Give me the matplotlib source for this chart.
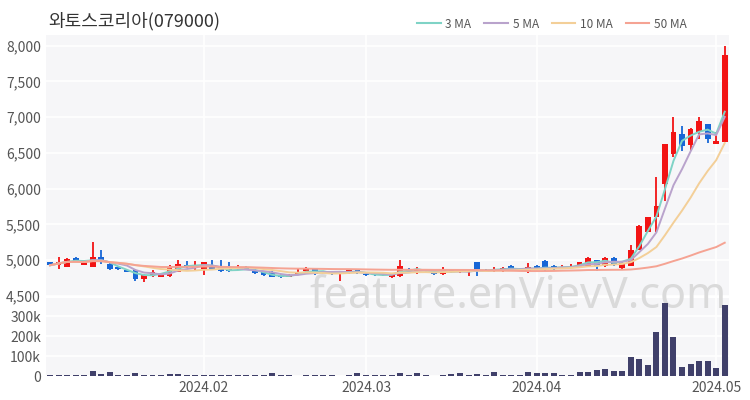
import matplotlib
matplotlib.use("Agg")
import matplotlib.pyplot as plt
from matplotlib.lines import Line2D
import numpy as np
import pandas as pd

plt.rcParams['font.family'] = ['Noto Sans CJK KR', 'DejaVu Sans']

# trading days (KRX holidays removed)
holidays = ["2024-02-09", "2024-02-12", "2024-03-01", "2024-04-10", "2024-05-01"]
dates = pd.bdate_range("2024-01-08", "2024-05-03")
dates = dates[~dates.isin(pd.to_datetime(holidays))]

opens = [4970, 4930, 4910, 5030, 4940, 4910, 5050, 4950, 4910, 4860,
         4870, 4740, 4780, 4770, 4780, 4840, 4930, 4890, 4880, 4940,
         4900, 4890, 4880, 4910, 4870, 4830, 4840, 4800, 4770, 4800,
         4850, 4880, 4820, 4840, 4820, 4820, 4860, 4810, 4810, 4790,
         4760, 4780, 4880, 4830, 4870, 4850, 4810, 4870, 4830, 4840,
         4970, 4870, 4850, 4850, 4920, 4880, 4850, 4920, 4990, 4920,
         4890, 4900, 4900, 4920, 5000, 4920, 5030, 4890, 4920, 5150,
         5400, 5600, 6060, 6480, 6760, 6610, 6790, 6900, 6630, 6650]
highs = [4980, 5050, 5030, 5040, 4980, 5250, 5150, 4980, 4920, 4870,
         4880, 4810, 4870, 4810, 4940, 5010, 4990, 4990, 4980, 5010,
         5000, 4970, 4930, 4920, 4880, 4840, 4850, 4810, 4810, 4880,
         4900, 4890, 4850, 4850, 4850, 4870, 4870, 4820, 4820, 4810,
         4810, 5000, 4890, 4900, 4880, 4860, 4900, 4880, 4860, 4860,
         4970, 4880, 4910, 4900, 4930, 4890, 4960, 4930, 5000, 4930,
         4940, 4950, 4980, 5040, 5010, 5040, 5040, 4990, 5220, 5490,
         5610, 6160, 6620, 7010, 6880, 6850, 7000, 6910, 6800, 7990]
lows = [4920, 4880, 4900, 4970, 4930, 4900, 4950, 4860, 4860, 4830,
        4710, 4690, 4760, 4760, 4770, 4830, 4890, 4850, 4800, 4870,
        4840, 4840, 4870, 4870, 4810, 4780, 4760, 4750, 4760, 4790,
        4840, 4790, 4810, 4800, 4710, 4810, 4810, 4780, 4780, 4780,
        4750, 4770, 4830, 4810, 4840, 4800, 4790, 4820, 4820, 4780,
        4780, 4840, 4840, 4840, 4870, 4850, 4820, 4860, 4850, 4850,
        4880, 4890, 4890, 4910, 4850, 4900, 4920, 4880, 4920, 5150,
        5390, 5400, 5830, 6440, 6530, 6530, 6690, 6640, 6630, 6650]
closes = [4930, 4980, 5020, 4980, 4970, 5050, 4980, 4880, 4880, 4840,
          4740, 4800, 4830, 4800, 4900, 4950, 4900, 4930, 4970, 4880,
          4850, 4850, 4890, 4880, 4820, 4800, 4770, 4770, 4800, 4830,
          4890, 4810, 4840, 4810, 4840, 4860, 4820, 4790, 4790, 4800,
          4800, 4920, 4840, 4870, 4850, 4810, 4870, 4830, 4850, 4850,
          4870, 4850, 4880, 4890, 4880, 4860, 4910, 4880, 4900, 4900,
          4910, 4910, 4970, 5030, 4920, 5030, 4950, 4960, 5150, 5480,
          5600, 5760, 6620, 6790, 6600, 6840, 6950, 6690, 6670, 7870]
volumes = [3000, 4000, 5000, 3000, 4000, 25000, 8000, 20000, 6000, 7000,
           15000, 5000, 3000, 3000, 10000, 10000, 5000, 3000, 6000, 3000,
           3000, 4000, 3000, 3000, 6000, 3000, 14000, 6000, 3000, 2000,
           3000, 3000, 6000, 3000, 2000, 3000, 17000, 3000, 3000, 3000,
           4000, 15000, 6000, 15000, 3000, 2000, 3000, 10000, 14000, 6000,
           8000, 7000, 18000, 5000, 6000, 5000, 20000, 14000, 14000, 14000,
           5000, 5000, 18000, 22000, 32000, 37000, 25000, 27000, 97000, 84000,
           56000, 220000, 367000, 194000, 46000, 60000, 75000, 75000, 40000, 357000]

ma_windows = [3, 5, 10, 50]
ma_colors = ['#7fd3c6', '#b9a3cc', '#f3cf98', '#f5a393']

df = pd.DataFrame({'open': opens, 'high': highs, 'low': lows,
                   'close': closes, 'volume': volumes}, index=dates)
x = np.arange(len(df))
up = df['close'] >= df['open']
red, blue = '#f21414', '#1766d6'
colors = np.where(up, red, blue)

bg = '#f6f6f8'
fig = plt.figure(figsize=(7.5, 4), dpi=100)
ax = fig.add_axes([0.061, 0.26, 0.911, 0.6525])
axv = fig.add_axes([0.061, 0.06, 0.911, 0.195])

for a in (ax, axv):
    a.set_facecolor(bg)
    for s in a.spines.values():
        s.set_visible(False)
    a.tick_params(length=0, labelsize=10, colors='#555555')
    a.grid(True, color='white', linewidth=1.2)
    a.set_axisbelow(True)
    a.set_xlim(-0.5, len(df) - 0.5)

# price candles
ax.vlines(x, df['low'], df['high'], colors=colors, linewidth=1.3, zorder=3)
body_bottom = np.minimum(df['open'], df['close'])
body_h = np.maximum(np.abs(df['close'] - df['open']), 12)
ax.bar(x, body_h, bottom=body_bottom, width=0.68, color=colors, zorder=3)

for w, c in zip(ma_windows, ma_colors):
    ma = df['close'].rolling(w, min_periods=1).mean()
    ax.plot(x, ma, color=c, linewidth=1.4, zorder=4)

ax.set_ylim(4500, 8150)
ax.set_yticks(np.arange(4500, 8001, 500))
ax.set_yticklabels([f"{v:,}" for v in range(4500, 8001, 500)])

# month ticks at first trading day
month_first = [i for i in range(1, len(df)) if dates[i].month != dates[i - 1].month]
for a in (ax, axv):
    a.set_xticks(month_first)
ax.set_xticklabels([])
axv.set_xticklabels([dates[i].strftime('%Y.%m') for i in month_first])

# volume
axv.bar(x, df['volume'], width=0.7, color='#40406a', zorder=3)
axv.set_ylim(0, 390000)
axv.set_yticks([0, 100000, 200000, 300000])
axv.set_yticklabels(['0', '100k', '200k', '300k'])
axv.set_zorder(2)

axv.text(0.69, 0.257, 'feature.enVievV.com', transform=fig.transFigure,
         ha='center', va='center', fontsize=31, color='#dadada',
         family=['Noto Sans', 'DejaVu Sans'], zorder=1, clip_on=False)

fig.text(0.064, 0.948, '와토스코리아(079000)', fontsize=13, color='#333333', va='center')

handles = [Line2D([0], [0], color=c, linewidth=1.5) for c in ma_colors]
fig.legend(handles, [f"{w} MA" for w in ma_windows], loc='center right',
           bbox_to_anchor=(0.93, 0.94), ncol=4, frameon=False, fontsize=8.5,
           labelcolor='#555555', handlelength=2.0, columnspacing=1.1, handletextpad=0.4)

fig.savefig('out.png', dpi=100)
